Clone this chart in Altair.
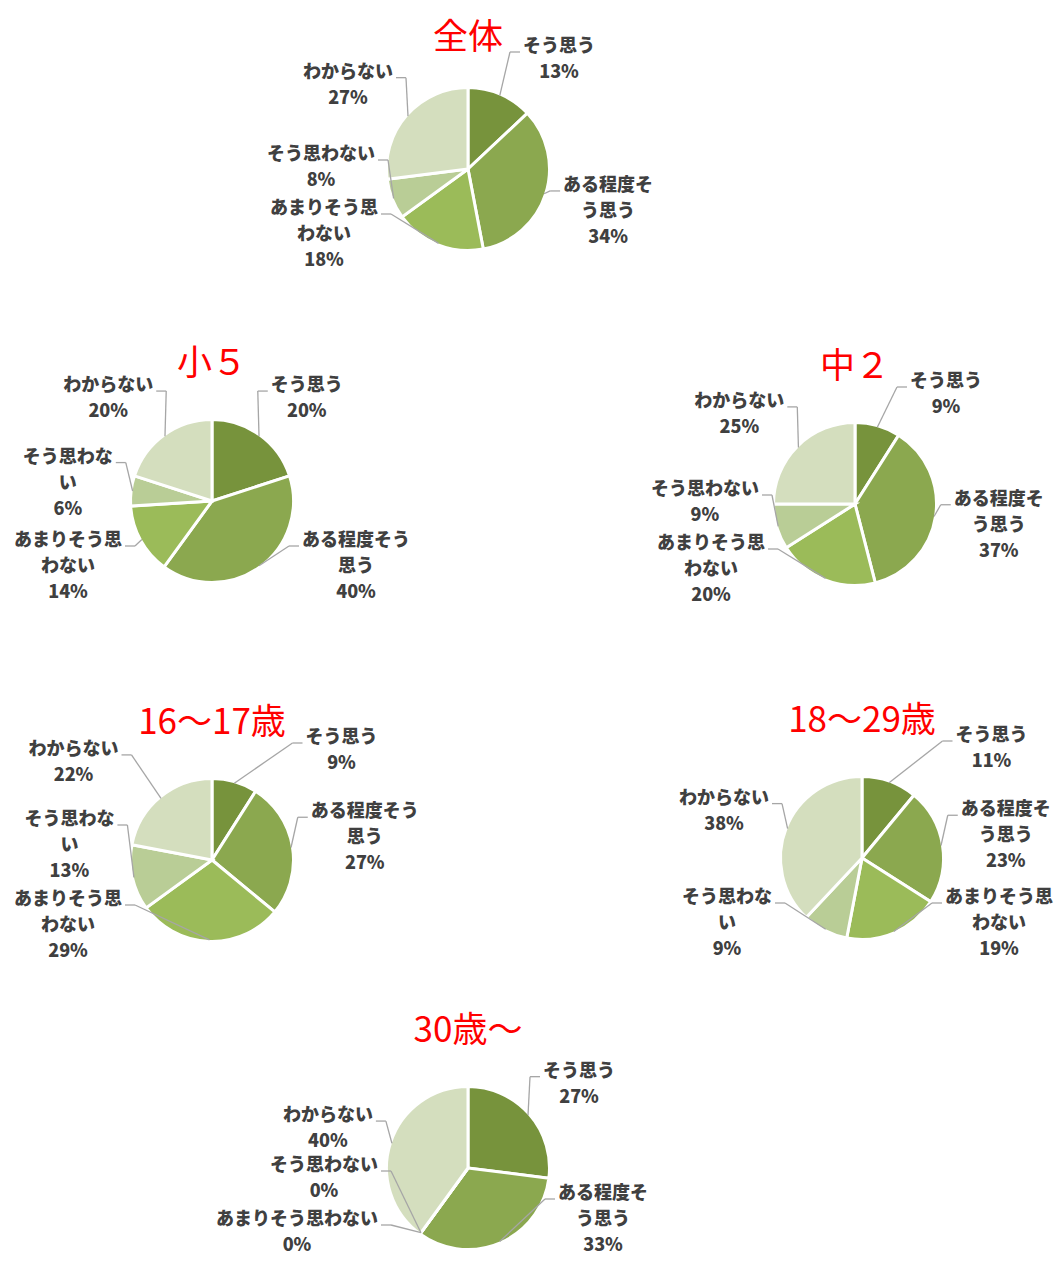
import altair as alt
import pandas as pd

# ---- data ----
groups = ["全体", "小５", "中２", "16～17歳", "18～29歳", "30歳～"]
categories = ["そう思う", "ある程度そう思う", "あまりそう思わない", "そう思わない", "わからない"]

v_all = [13, 34, 18, 8, 27]
v_e5 = [20, 40, 14, 6, 20]
v_j2 = [9, 37, 20, 9, 25]
v_16 = [9, 27, 29, 13, 22]
v_18 = [11, 23, 19, 9, 38]
v_30 = [27, 33, 0, 0, 40]
values = [v_all, v_e5, v_j2, v_16, v_18, v_30]

# label text as wrapped in each pie
lab_all = ["そう思う", "ある程度そ\nう思う", "あまりそう思\nわない", "そう思わない", "わからない"]
lab_e5 = ["そう思う", "ある程度そう\n思う", "あまりそう思\nわない", "そう思わな\nい", "わからない"]
lab_j2 = ["そう思う", "ある程度そ\nう思う", "あまりそう思\nわない", "そう思わない", "わからない"]
lab_16 = ["そう思う", "ある程度そう\n思う", "あまりそう思\nわない", "そう思わな\nい", "わからない"]
lab_18 = ["そう思う", "ある程度そ\nう思う", "あまりそう思\nわない", "そう思わな\nい", "わからない"]
lab_30 = ["そう思う", "ある程度そ\nう思う", "あまりそう思わない", "そう思わない", "わからない"]
labels = [lab_all, lab_e5, lab_j2, lab_16, lab_18, lab_30]

colors = ["#77933C", "#8BA84F", "#9BBB59", "#B9CD96", "#D4DEBE"]

# ---- layout (pie centres in pixels) ----
W, H = 1048, 1252
centers_x = [460, 204, 847, 204, 854, 460]
centers_y = [161, 493, 496, 852, 850, 1160]

FS = 18        # label font size
LH = 26        # label line height
TFS = 35       # title font size
R = 80         # pie radius


def text_width(s, size):
    return sum(1.0 if ord(ch) > 255 else 0.55 for ch in s) * size


rows = []
for gi, g in enumerate(groups):
    tw = text_width(g, TFS)
    for i, cat in enumerate(categories):
        lab = labels[gi][i]
        v = values[gi][i]
        lines = lab.split("\n") + [f"{v}%"]
        w = max(text_width(ln, FS) for ln in lines)
        rows.append(dict(group=g, cat=cat, order=i, value=v, label=lab,
                         nlines=len(lines), w=w, tw=tw,
                         cx=centers_x[gi], cy=centers_y[gi]))
df = pd.DataFrame(rows)

titles_df = pd.DataFrame({"group": groups, "cx": centers_x, "cy": centers_y})

base = (
    alt.Chart(df)
    .transform_joinaggregate(total="sum(value)", groupby=["group"])
    .transform_window(cum="sum(value)", groupby=["group"],
                      sort=[alt.SortField("order")], frame=[None, 0])
    .transform_calculate(f0="(datum.cum - datum.value) / datum.total")
    .transform_calculate(f1="datum.cum / datum.total")
    .transform_calculate(m="PI * (datum.f0 + datum.f1)")
    .transform_calculate(s="sin(datum.m)")
    .transform_calculate(c="-cos(datum.m)")
    .transform_calculate(side="datum.s >= 0 ? 1 : -1")
    .transform_calculate(h=f"datum.nlines * {LH}")
    .transform_calculate(bot=f"min(105, {H} - 1 - datum.cy)")
    .transform_calculate(dy0="clamp(datum.c * 100 + datum.c * datum.h / 2, -135 + datum.h / 2, datum.bot - datum.h / 2)")
    .transform_calculate(inner0="max(abs(datum.s) * 100, datum.c > 0 ? 90 : 50)")
    .transform_calculate(inner="datum.dy0 - datum.h / 2 < -118 ? max(datum.inner0, datum.tw / 2 + 20) : datum.inner0")
    .transform_calculate(dx_raw="datum.side * (datum.inner + datum.w / 2)")
    .transform_calculate(dx=f"clamp(datum.dx_raw, 3 - datum.cx + datum.w / 2, {W} - 3 - datum.cx - datum.w / 2)")
    .transform_window(
        window=[alt.WindowFieldDef(op="lag", field="dy0", **{"as": "prev_dy"}),
                alt.WindowFieldDef(op="lag", field="h", **{"as": "prev_h"})],
        groupby=["group", "side"], sort=[alt.SortField("order")])
    .transform_calculate(dy="!isValid(datum.prev_dy) ? datum.dy0 : (datum.side < 0 ? min(datum.dy0, datum.prev_dy - datum.prev_h / 2 - datum.h / 2 - 2) : max(datum.dy0, datum.prev_dy + datum.prev_h / 2 + datum.h / 2 + 2))")
    .transform_calculate(tx="datum.cx + datum.dx")
    .transform_calculate(ty="datum.cy + datum.dy")
    .transform_calculate(ty_first=f"datum.ty - (datum.h - {LH}) / 2")
    .transform_calculate(px=f"datum.cx + {R} * datum.s")
    .transform_calculate(py=f"datum.cy + {R} * datum.c")
    .transform_calculate(lx="datum.tx - datum.side * (datum.w / 2 + 3)")
    .transform_calculate(ly="datum.ty - datum.h / 2 + 18")
    .transform_calculate(kx="datum.lx - datum.side * 10")
    .transform_calculate(txt="datum.label + '\\n' + datum.value + '%'")
)

arcs = base.mark_arc(radius=R + 1.5, stroke="white", strokeWidth=3).encode(
    x=alt.X("cx:Q", scale=None, axis=None),
    y=alt.Y("cy:Q", scale=None, axis=None),
    theta=alt.Theta("f0:Q", stack=None,
                    scale=alt.Scale(domain=[0, 1], range=[0, 6.283185307179586])),
    theta2=alt.Theta2("f1:Q"),
    color=alt.Color("cat:N", scale=alt.Scale(domain=categories, range=colors), legend=None),
)

lead1 = base.mark_rule(color="#A6A6A6", strokeWidth=1.3).encode(
    x=alt.X("px:Q", scale=None, axis=None),
    y=alt.Y("py:Q", scale=None, axis=None),
    x2=alt.X2("kx:Q"),
    y2=alt.Y2("ly:Q"),
)
lead2 = base.mark_rule(color="#A6A6A6", strokeWidth=1.3).encode(
    x=alt.X("kx:Q", scale=None, axis=None),
    y=alt.Y("ly:Q", scale=None, axis=None),
    x2=alt.X2("lx:Q"),
    y2=alt.Y2("ly:Q"),
)

label_text = base.mark_text(
    font="Noto Sans CJK JP", fontSize=FS, fontWeight=900, color="#404040",
    align="center", baseline="middle", lineBreak="\n", lineHeight=LH,
).encode(
    x=alt.X("tx:Q", scale=None, axis=None),
    y=alt.Y("ty_first:Q", scale=None, axis=None),
    text="txt:N",
)

titles = alt.Chart(titles_df).transform_calculate(
    tyy="max(datum.cy - 137, 30)"
).mark_text(
    font="Noto Sans CJK JP", fontSize=TFS, color="#FF0000",
    align="center", baseline="middle",
).encode(
    x=alt.X("cx:Q", scale=None, axis=None),
    y=alt.Y("tyy:Q", scale=None, axis=None),
    text="group:N",
)

chart = alt.layer(arcs, lead1, lead2, label_text, titles).properties(
    width=W, height=H, autosize="none", padding=0,
).configure_view(stroke=None)

chart.save("out.html", embed_options={"renderer": "svg", "actions": False})
